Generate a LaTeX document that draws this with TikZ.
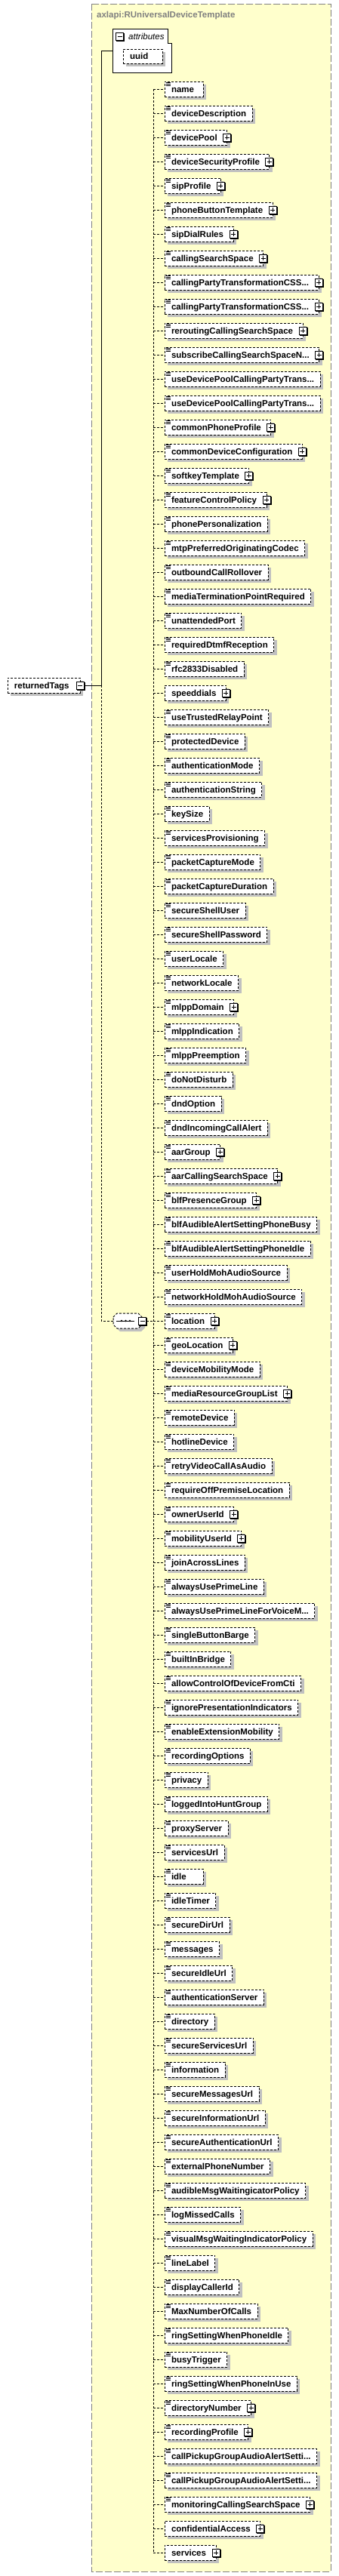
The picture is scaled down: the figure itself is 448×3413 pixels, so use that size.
\documentclass[tikz,border=0pt]{standalone}
\usepackage{fontspec}
\setmainfont{Liberation Sans}
\definecolor{bgyel}{RGB}{255,255,204}
\definecolor{shad}{RGB}{192,192,192}
\definecolor{framec}{RGB}{128,128,128}
\newcommand\xelfont{\fontsize{11.5pt}{13pt}\selectfont\bfseries}
\newcount\xelidx
\pgfdeclarelayer{back}
\pgfdeclarelayer{mid}
\pgfsetlayers{back,mid,main}
\tikzset{
  dsh/.style={line width=1pt, dash pattern=on 3pt off 2pt},
  conn/.style={dsh, draw=black},
  elbox/.style={draw=black, dsh, fill=white, anchor=west, inner sep=0pt, outer sep=0pt,
    minimum height=20pt},
  txt/.style={anchor=west, inner sep=0pt, outer sep=0pt, font=\xelfont, text height=9.5pt, text depth=1.5pt},
  iconbox/.style={draw=black, fill=white, line width=1pt, minimum size=10pt, inner sep=0pt, outer sep=0pt},
}
\newcommand\picon[4]{% name, x, y, 1=plus 0=minus
  \fill[black] (#2-4.5,#3-4.5) rectangle (#2+6.5,#3+6.5);
  \node[iconbox] (#1) at (#2,#3) {};
  \draw[line width=1pt] (#2-3,#3) -- (#2+3,#3);
  \ifnum#4=1 \draw[line width=1pt] (#2,#3-3) -- (#2,#3+3);\fi
}
\newcommand\xel[3]{% text, plus, icon
  \global\advance\xelidx by 1
  \edef\nm{\the\xelidx}%
  \pgfmathsetmacro\yc{118+32*(\nm-1)}%
  \node[txt] (t\nm) at (227,\yc) {#1};
  \path (t\nm.east); \pgfgetlastxy{\tx}{\ty}%
  \ifnum#2=1 \pgfmathsetmacro\xr{\tx+13}\else\pgfmathsetmacro\xr{max(\tx+8,269)}\fi
  \pgfmathsetmacro\bw{\xr-218}%
  \begin{pgfonlayer}{mid}
  \fill[shad] (222,\yc-6) rectangle (\xr+4,\yc+14);
  \node[elbox, minimum width=\bw pt] (e\nm) at (218,\yc) {};
  \end{pgfonlayer}
  \ifnum#3=1 \foreach \dd in {9,7,5} {\draw[line width=0.8pt] (220,\yc-\dd) -- (225.5,\yc-\dd);}\fi
  \ifnum#2=1 \picon{p\nm}{\xr}{\yc}{1}\fi
  \draw[conn] (bus |- e\nm.west) -- (e\nm.west);
}
\begin{document}
\begin{tikzpicture}[x=1pt, y=-1pt]
\useasboundingbox (0,0) rectangle (448,3413);
\begin{pgfonlayer}{back}
\fill[white] (0,0) rectangle (448,3413);
\draw[fill=bgyel, draw=framec, line width=1pt, dash pattern=on 9pt off 3pt] (121,5) rectangle (438,3407);
\end{pgfonlayer}
\node[anchor=base west, inner sep=0pt, font=\xelfont, text=framec] (title) at (128,23) {axlapi:RUniversalDeviceTemplate};
\coordinate (bus) at (203,0);
\coordinate (j) at (134,908);
% attributes
\node[inner sep=0pt, outer sep=0pt, minimum width=78pt, minimum height=58pt, anchor=north west] (attr) at (149,38) {};
\draw[line width=1pt, fill=white] (149,38) -- (222,38) -- (222,57) -- (227,57) -- (227,96) -- (149,96) -- cycle;
\picon{attrm}{158.5}{48}{0}
\node[anchor=base west, inner sep=0pt, font=\fontsize{11.5pt}{13pt}\selectfont\itshape] (attrl) at (170,52) {attributes};
\fill[shad] (167,69) rectangle (219,88);
\node[elbox, minimum height=19pt, minimum width=52pt] (uuid) at (163,74.5) {};
\node[txt] (uuidt) at (172,74.5) {uuid};
% returnedTags
\fill[shad] (14,902) rectangle (110,922);
\node[elbox, minimum width=96pt] (rt) at (10,908) {};
\node[txt] (rtt) at (19,908) {returnedTags};
\picon{rtm}{106}{908}{0}
\draw[line width=1pt] (rtm.east) -- (j);
\draw[line width=1pt] (j) |- (attr.west);
% sequence
\node[inner sep=0pt, outer sep=0pt, minimum width=38pt, minimum height=20pt] (seq) at (169,1750) {};
\fill[shad] (154,1749) -- (159,1744) -- (187,1744) -- (192,1749) -- (192,1759) -- (187,1764) -- (159,1764) -- (154,1759) -- cycle;
\draw[dsh, fill=white] (150,1745) -- (155,1740) -- (183,1740) -- (188,1745) -- (188,1755) -- (183,1760) -- (155,1760) -- (150,1755) -- cycle;
\draw[line width=1pt] (154,1750) -- (178,1750);
\foreach \dx in {161,166.5,172} {\fill (\dx,1750) circle (1.4);}
\picon{seqm}{188.5}{1750}{0}
\draw[conn] (j) |- (seq.west);
\draw[conn] (seqm.east) -- (bus |- seqm.east);
% elements
\xel{name}{0}{1}
\xel{deviceDescription}{0}{1}
\xel{devicePool}{1}{1}
\xel{deviceSecurityProfile}{1}{1}
\xel{sipProfile}{1}{1}
\xel{phoneButtonTemplate}{1}{1}
\xel{sipDialRules}{1}{1}
\xel{callingSearchSpace}{1}{1}
\xel{callingPartyTransformationCSS...}{1}{1}
\xel{callingPartyTransformationCSS...}{1}{1}
\xel{reroutingCallingSearchSpace}{1}{1}
\xel{subscribeCallingSearchSpaceN...}{1}{1}
\xel{useDevicePoolCallingPartyTrans...}{0}{1}
\xel{useDevicePoolCallingPartyTrans...}{0}{1}
\xel{commonPhoneProfile}{1}{1}
\xel{commonDeviceConfiguration}{1}{1}
\xel{softkeyTemplate}{1}{1}
\xel{featureControlPolicy}{1}{1}
\xel{phonePersonalization}{0}{1}
\xel{mtpPreferredOriginatingCodec}{0}{1}
\xel{outboundCallRollover}{0}{1}
\xel{mediaTerminationPointRequired}{0}{1}
\xel{unattendedPort}{0}{1}
\xel{requiredDtmfReception}{0}{1}
\xel{rfc2833Disabled}{0}{1}
\xel{speeddials}{1}{0}
\xel{useTrustedRelayPoint}{0}{1}
\xel{protectedDevice}{0}{1}
\xel{authenticationMode}{0}{1}
\xel{authenticationString}{0}{1}
\xel{keySize}{0}{1}
\xel{servicesProvisioning}{0}{1}
\xel{packetCaptureMode}{0}{1}
\xel{packetCaptureDuration}{0}{1}
\xel{secureShellUser}{0}{1}
\xel{secureShellPassword}{0}{1}
\xel{userLocale}{0}{1}
\xel{networkLocale}{0}{1}
\xel{mlppDomain}{1}{1}
\xel{mlppIndication}{0}{1}
\xel{mlppPreemption}{0}{1}
\xel{doNotDisturb}{0}{1}
\xel{dndOption}{0}{1}
\xel{dndIncomingCallAlert}{0}{1}
\xel{aarGroup}{1}{1}
\xel{aarCallingSearchSpace}{1}{1}
\xel{blfPresenceGroup}{1}{1}
\xel{blfAudibleAlertSettingPhoneBusy}{0}{1}
\xel{blfAudibleAlertSettingPhoneIdle}{0}{1}
\xel{userHoldMohAudioSource}{0}{1}
\xel{networkHoldMohAudioSource}{0}{1}
\xel{location}{1}{1}
\xel{geoLocation}{1}{1}
\xel{deviceMobilityMode}{0}{1}
\xel{mediaResourceGroupList}{1}{1}
\xel{remoteDevice}{0}{1}
\xel{hotlineDevice}{0}{1}
\xel{retryVideoCallAsAudio}{0}{1}
\xel{requireOffPremiseLocation}{0}{1}
\xel{ownerUserId}{1}{1}
\xel{mobilityUserId}{1}{1}
\xel{joinAcrossLines}{0}{1}
\xel{alwaysUsePrimeLine}{0}{1}
\xel{alwaysUsePrimeLineForVoiceM...}{0}{1}
\xel{singleButtonBarge}{0}{1}
\xel{builtInBridge}{0}{1}
\xel{allowControlOfDeviceFromCti}{0}{1}
\xel{ignorePresentationIndicators}{0}{1}
\xel{enableExtensionMobility}{0}{1}
\xel{recordingOptions}{0}{1}
\xel{privacy}{0}{1}
\xel{loggedIntoHuntGroup}{0}{1}
\xel{proxyServer}{0}{1}
\xel{servicesUrl}{0}{1}
\xel{idle}{0}{1}
\xel{idleTimer}{0}{1}
\xel{secureDirUrl}{0}{1}
\xel{messages}{0}{1}
\xel{secureIdleUrl}{0}{1}
\xel{authenticationServer}{0}{1}
\xel{directory}{0}{1}
\xel{secureServicesUrl}{0}{1}
\xel{information}{0}{1}
\xel{secureMessagesUrl}{0}{1}
\xel{secureInformationUrl}{0}{1}
\xel{secureAuthenticationUrl}{0}{1}
\xel{externalPhoneNumber}{0}{1}
\xel{audibleMsgWaitingicatorPolicy}{0}{1}
\xel{logMissedCalls}{0}{1}
\xel{visualMsgWaitingIndicatorPolicy}{0}{1}
\xel{lineLabel}{0}{1}
\xel{displayCallerId}{0}{1}
\xel{MaxNumberOfCalls}{0}{1}
\xel{ringSettingWhenPhoneIdle}{0}{1}
\xel{busyTrigger}{0}{1}
\xel{ringSettingWhenPhoneInUse}{0}{1}
\xel{directoryNumber}{1}{1}
\xel{recordingProfile}{1}{1}
\xel{callPickupGroupAudioAlertSetti...}{0}{1}
\xel{callPickupGroupAudioAlertSetti...}{0}{1}
\xel{monitoringCallingSearchSpace}{1}{1}
\xel{confidentialAccess}{1}{0}
\xel{services}{1}{0}
\draw[conn] (bus |- e1.west) -- (bus |- e103.west);
\end{tikzpicture}
\end{document}
